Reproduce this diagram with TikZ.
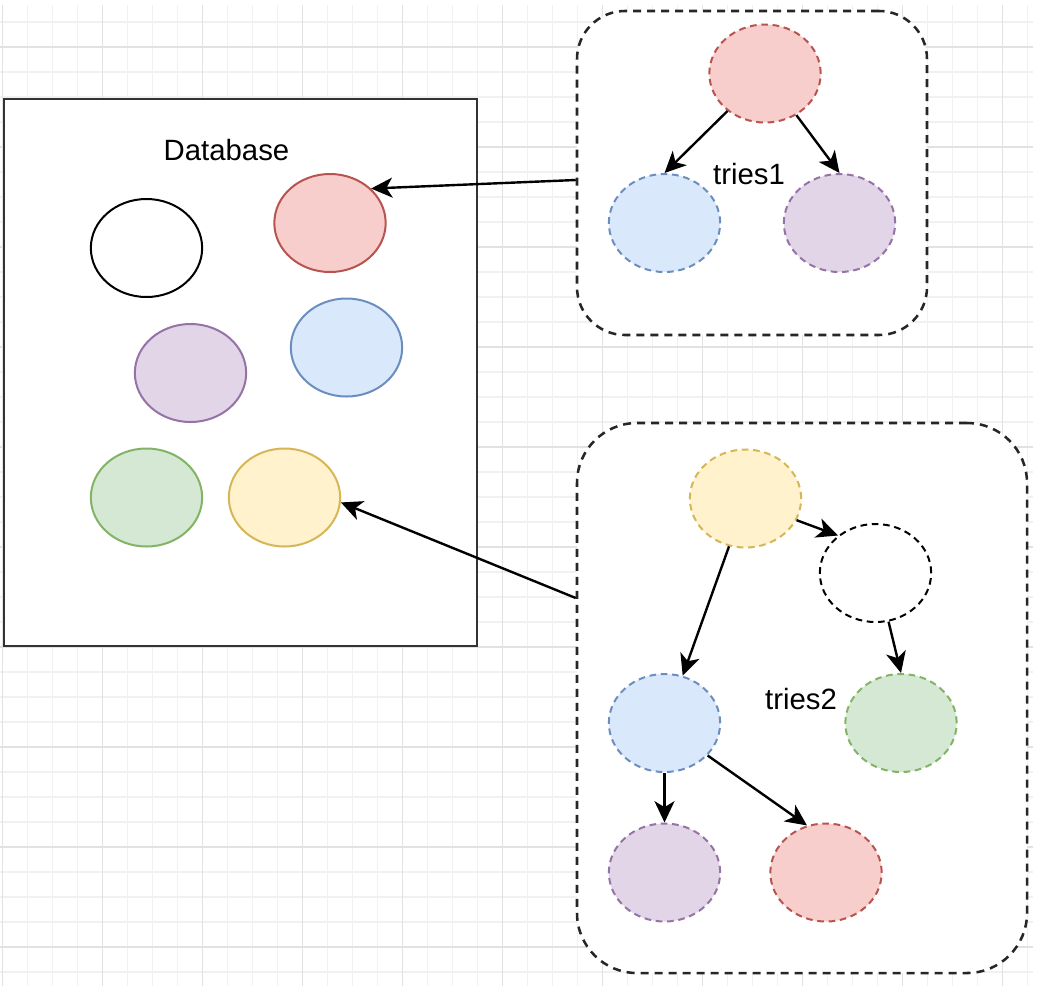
\documentclass[tikz,border=0pt]{standalone}
\usepackage{fontspec}
\setmainfont{Liberation Sans}
\usetikzlibrary{arrows.meta,shapes.geometric}
\definecolor{gridminor}{HTML}{F1F1F1}
\definecolor{gridmajor}{HTML}{E2E2E2}
\definecolor{redF}{HTML}{F8CECC}\definecolor{redS}{HTML}{B85450}
\definecolor{bluF}{HTML}{DAE8FC}\definecolor{bluS}{HTML}{6C8EBF}
\definecolor{purF}{HTML}{E1D5E7}\definecolor{purS}{HTML}{9673A6}
\definecolor{grnF}{HTML}{D5E8D4}\definecolor{grnS}{HTML}{82B366}
\definecolor{yelF}{HTML}{FFF2CC}\definecolor{yelS}{HTML}{D6B656}
\definecolor{boxS}{HTML}{333333}
\tikzset{
  oval/.style={ellipse, draw, line width=1.5pt, minimum width=83.5pt, minimum height=73.5pt, inner sep=0pt},
  dsh/.style={dash pattern=on 5pt off 3.5pt},
  redN/.style={oval, fill=redF, draw=redS},
  bluN/.style={oval, fill=bluF, draw=bluS},
  purN/.style={oval, fill=purF, draw=purS},
  grnN/.style={oval, fill=grnF, draw=grnS},
  yelN/.style={oval, fill=yelF, draw=yelS},
  wN/.style={oval, fill=white, draw=black},
  dbbox/.style={rectangle, draw=boxS, fill=white, line width=2pt, inner sep=0pt},
  triebox/.style={rectangle, draw=black!85, fill=white, line width=1.9pt, dash pattern=on 6pt off 4.5pt, inner sep=0pt},
  lbl/.style={font=\fontsize{22}{26}\selectfont, inner sep=0pt},
  arr/.style={line width=1.8pt, -{Stealth[length=16pt, width=15pt, inset=4.5pt]}}
}
\begin{document}
\begin{tikzpicture}[x=0.75pt, y=-0.75pt]
\useasboundingbox (0,0) rectangle (1048,986);
% grid
\foreach \x in {2.7,27.7,...,1030} \draw[gridminor, line width=0.8pt] (\x,5) -- (\x,986);
\foreach \y in {22,47,...,985} \draw[gridminor, line width=0.8pt] (0,\y) -- (1033,\y);
\foreach \x in {2.7,102.7,...,1030} \draw[gridmajor, line width=0.9pt] (\x,5) -- (\x,986);
\foreach \y in {47,147,...,985} \draw[gridmajor, line width=0.9pt] (0,\y) -- (1033,\y);

% database
\node[dbbox, minimum width=354.75pt, minimum height=410.25pt] (db) at (240.5,372.5) {};
\node[lbl] (dbl) at (226.5,150.5) {Database};
\node[wN] (dbw) at (146.5,248) {};
\node[redN] (dbr) at (330,223) {};
\node[purN] (dbp) at (190.5,373) {};
\node[bluN] (dbb) at (346.5,347.5) {};
\node[grnN] (dbg) at (146.5,497.5) {};
\node[yelN] (dby) at (284.5,497.5) {};

% tries1
\node[triebox, rounded corners=36pt, minimum width=262.5pt, minimum height=243pt] (t1) at (752,173) {};
\node[redN, dsh] (t1r) at (765,73.5) {};
\node[bluN, dsh] (t1b) at (664.5,223) {};
\node[purN, dsh] (t1p) at (839.5,223) {};
\node[lbl] (t1l) at (749,174) {tries1};
\draw[arr] (t1r.225) -- (t1b.north);
\draw[arr] (t1r.307) -- (t1p.north);

% tries2
\node[triebox, rounded corners=45pt, minimum width=337.5pt, minimum height=412.5pt] (t2) at (802,698) {};
\node[yelN, dsh] (t2y) at (745.5,498.5) {};
\node[wN, dsh] (t2w) at (875.5,573) {};
\node[bluN, dsh] (t2b) at (664.5,723) {};
\node[grnN, dsh] (t2g) at (901,723) {};
\node[purN, dsh] (t2p) at (664.5,872.5) {};
\node[redN, dsh] (t2r) at (826,872.5) {};
\node[lbl] (t2l) at (801,698.5) {tries2};
\draw[arr] (t2y.-23) -- (t2w.135);
\draw[arr] (t2y.251) -- (t2b.69);
\draw[arr] (t2w.285) -- (t2g.north);
\draw[arr] (t2b.south) -- (t2p.north);
\draw[arr] (t2b.323) -- (t2r.112);

% links to database
\draw[arr] ([yshift=-5.25pt]t1.west) -- (dbr.40);
\draw[arr] ([yshift=75pt]t2.west) -- (dby.-5);
\end{tikzpicture}
\end{document}
